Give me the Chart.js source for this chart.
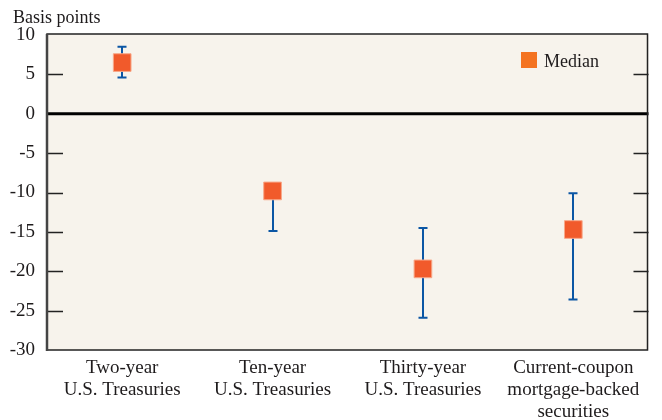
<!DOCTYPE html>
<html>
<head>
<meta charset="utf-8">
<script src="https://cdn.jsdelivr.net/npm/chart.js@4.4.1/dist/chart.umd.min.js"></script>
<style>
html, body { margin: 0; padding: 0; background: #fff; }
</style>
</head>
<body>
<canvas id="medianChart" width="662" height="420"></canvas>
<script>
// ---- data ----
const categories = [
    ['Two-year', 'U.S. Treasuries'],
    ['Ten-year', 'U.S. Treasuries'],
    ['Thirty-year', 'U.S. Treasuries'],
    ['Current-coupon', 'mortgage-backed', 'securities']
];
const medians = [6.5, -9.8, -19.7, -14.7];
const errLow = [4.6, -14.9, -25.9, -23.6];
const errHigh = [8.5, -9.5, -14.5, -10.1];
const yTickValues = [10, 5, 0, -5, -10, -15, -20, -25, -30];

const FONT = '"Liberation Serif", "DejaVu Serif", serif';
const INK = '#1e1b1c';
const PLOT_BG = '#f7f3ec';
const MARKER = '#f15a2b';
const BAR_BLUE = '#0b56a4';

// background, frame, inward ticks, zero line, error bars
const framePlugin = {
    id: 'frame',
    beforeDraw(chart) {
        const { ctx, chartArea: a } = chart;
        ctx.save();
        ctx.fillStyle = PLOT_BG;
        ctx.fillRect(a.left, a.top - 1, a.right - a.left, a.bottom - a.top + 1);
        ctx.restore();
    },
    beforeDatasetsDraw(chart) {
        const { ctx, chartArea: a, scales } = chart;
        const y = scales.y, x = scales.x;
        ctx.save();

        // inward tick marks on both sides
        ctx.strokeStyle = '#222';
        ctx.lineWidth = 1.5;
        yTickValues.forEach(v => {
            if (v === 0 || v === 10 || v === -30) return;
            const py = Math.round(y.getPixelForValue(v)) + 0.5;
            ctx.beginPath();
            ctx.moveTo(a.left, py); ctx.lineTo(a.left + 16, py);
            ctx.moveTo(a.right, py); ctx.lineTo(a.right - 15, py);
            ctx.stroke();
        });

        // zero line
        ctx.strokeStyle = '#000';
        ctx.lineWidth = 3;
        const z = y.getPixelForValue(0);
        ctx.beginPath();
        ctx.moveTo(a.left, z); ctx.lineTo(a.right, z);
        ctx.stroke();

        // error bars
        ctx.strokeStyle = BAR_BLUE;
        ctx.lineWidth = 2;
        medians.forEach((m, i) => {
            const px = Math.round(x.getPixelForValue(i));
            const lo = y.getPixelForValue(errLow[i]);
            const hi = y.getPixelForValue(errHigh[i]);
            ctx.beginPath();
            ctx.moveTo(px, lo); ctx.lineTo(px, hi);
            ctx.moveTo(px - 4.5, lo); ctx.lineTo(px + 4.5, lo);
            ctx.moveTo(px - 4.5, hi); ctx.lineTo(px + 4.5, hi);
            ctx.stroke();
        });
        ctx.restore();
    },
    afterDraw(chart) {
        const { ctx, chartArea: a } = chart;
        ctx.save();
        // frame
        ctx.strokeStyle = '#222';
        ctx.lineWidth = 1.5;
        ctx.strokeRect(a.left, a.top - 1, a.right - a.left - 1, a.bottom - a.top + 1);
        ctx.strokeStyle = '#444';
        ctx.lineWidth = 2.5;
        ctx.beginPath();
        ctx.moveTo(a.left, a.top - 1); ctx.lineTo(a.left, a.bottom + 1);
        ctx.stroke();

        // axis unit
        ctx.fillStyle = INK;
        ctx.font = '18px ' + FONT;
        ctx.textBaseline = 'alphabetic';
        ctx.fillText('Basis points', 13, 23);

        // legend
        ctx.fillStyle = '#f47321';
        ctx.fillRect(521, 52, 16, 16);
        ctx.fillStyle = INK;
        ctx.fillText('Median', 544, 67);
        ctx.restore();
    }
};

new Chart(document.getElementById('medianChart'), {
    type: 'line',
    data: {
        labels: categories,
        datasets: [{
            label: 'Median',
            data: medians,
            showLine: false,
            pointStyle: 'rect',
            pointRadius: 12.5,
            pointHoverRadius: 12.5,
            backgroundColor: MARKER,
            borderColor: '#f8a889',
            borderWidth: 1
        }]
    },
    options: {
        responsive: false,
        animation: false,
        events: [],
        layout: { padding: { top: 35, right: 1, left: 0, bottom: 0 } },
        plugins: {
            legend: { display: false },
            tooltip: { enabled: false }
        },
        scales: {
            x: {
                type: 'category',
                offset: true,
                grid: { display: false, drawTicks: false },
                border: { display: false },
                ticks: {
                    color: INK,
                    font: { family: FONT, size: 19, lineHeight: 1.15 },
                    padding: 7,
                    maxRotation: 0,
                    autoSkip: false
                },
                afterFit: s => { s.height = 70; }
            },
            y: {
                min: -30,
                max: 10,
                grid: { display: false, drawTicks: false },
                border: { display: false },
                ticks: {
                    stepSize: 5,
                    color: INK,
                    font: { family: FONT, size: 19 },
                    padding: 12
                },
                afterFit: s => { s.width = 47; }
            }
        }
    },
    plugins: [framePlugin]
});
</script>
</body>
</html>
